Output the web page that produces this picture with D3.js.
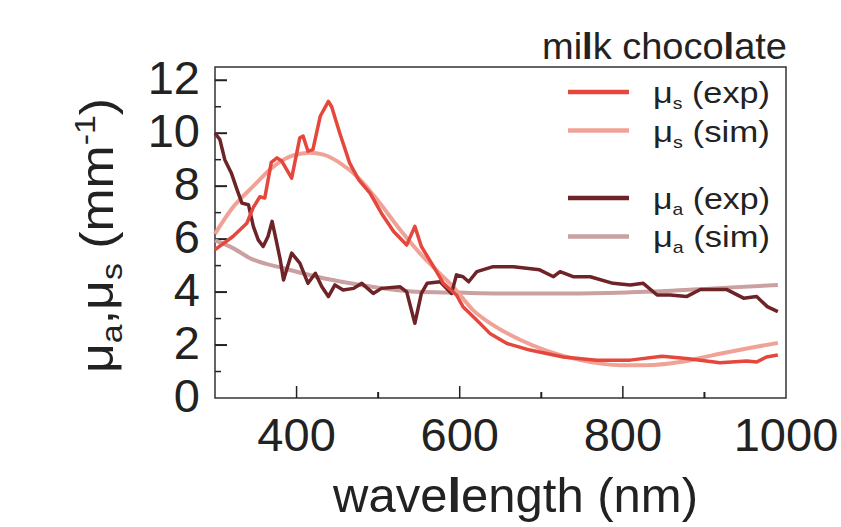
<!DOCTYPE html>
<html>
<head>
<meta charset="utf-8">
<script src="https://cdn.jsdelivr.net/npm/d3@7"></script>
<style>
  body { margin: 0; background: #fff; }
  text { font-family: "Liberation Sans", Arial, sans-serif; fill: #222; }
</style>
</head>
<body>
<div id="chart"></div>
<script>
// values (wavelength in nm, coefficients in 1/mm)
const musExpWl  = [300, 322, 339, 347, 355, 361, 369, 376, 382, 394, 404, 408, 414, 420, 429, 439, 443, 453, 465, 476, 490, 504, 519, 535, 545, 553, 568, 580, 596, 604, 621, 637, 658, 686, 727, 768, 809, 848, 878, 919, 952, 964, 976, 990];
const musExpVal = [5.6, 6.1, 6.6, 7.2, 7.6, 7.55, 8.9, 9.07, 8.94, 8.3, 9.83, 9.89, 9.32, 9.38, 10.64, 11.2, 11.0, 10.0, 8.88, 8.25, 7.74, 6.98, 6.29, 5.78, 6.48, 5.72, 4.96, 4.33, 3.89, 3.45, 2.94, 2.44, 2.06, 1.81, 1.55, 1.43, 1.43, 1.58, 1.49, 1.33, 1.40, 1.36, 1.55, 1.62];

const musSimWl  = [300, 322, 347, 372, 396, 416, 433, 453, 478, 502, 527, 551, 567, 592, 617, 641, 674, 707, 748, 797, 829, 870, 911, 952, 990];
const musSimVal = [6.2, 7.2, 8.0, 8.75, 9.16, 9.26, 9.19, 8.88, 8.25, 7.36, 6.35, 5.47, 4.96, 4.2, 3.3, 2.75, 2.2, 1.78, 1.43, 1.24, 1.24, 1.36, 1.62, 1.87, 2.08];

const muaExpWl  = [300, 306, 312, 320, 327, 333, 341, 347, 353, 359, 365, 370, 374, 380, 384, 394, 404, 414, 423, 431, 439, 447, 457, 470, 480, 494, 504, 527, 535, 545, 553, 560, 576, 590, 596, 604, 611, 621, 641, 666, 698, 715, 723, 739, 760, 788, 809, 825, 842, 858, 878, 895, 927, 948, 964, 977, 990];
const muaExpVal = [10.0, 9.76, 9.0, 8.5, 7.87, 7.36, 7.3, 6.48, 5.97, 5.72, 6.1, 6.67, 6.1, 5.22, 4.46, 5.47, 5.09, 4.33, 4.71, 4.2, 3.83, 4.27, 4.08, 4.14, 4.33, 3.95, 4.14, 4.2, 4.01, 2.82, 3.95, 4.33, 4.39, 3.95, 4.65, 4.58, 4.39, 4.77, 4.96, 4.96, 4.84, 4.58, 4.77, 4.58, 4.58, 4.33, 4.27, 4.33, 3.89, 3.89, 3.83, 4.1, 4.1, 3.77, 3.83, 3.45, 3.26];

const muaSimWl  = [300, 322, 343, 384, 425, 466, 506, 547, 596, 649, 747, 829, 911, 990];
const muaSimVal = [5.95, 5.66, 5.28, 4.9, 4.58, 4.33, 4.14, 4.01, 3.98, 3.95, 3.95, 4.01, 4.14, 4.27];

const xTicks = [300, 400, 500, 600, 700, 800, 900, 1000];
const xLabels = [400, 600, 800, 1000];
const yTicks = [0, 1, 2, 3, 4, 5, 6, 7, 8, 9, 10, 11, 12];
const yLabels = [0, 2, 4, 6, 8, 10, 12];

const legendSub = ["s", "s", "a", "a"];
const legendKind = ["(exp)", "(sim)", "(exp)", "(sim)"];
const legendRow = [0, 1, 2.75, 3.75];

const colors = ["#e5473d", "#f0a296", "#6e2427", "#caa0a0"];
const widths = [3.5, 4, 3.5, 4];

const margin = { top: 67, right: 55, bottom: 129, left: 215 },
  width = 841 - margin.left - margin.right,
  height = 527 - margin.top - margin.bottom;

const svg = d3.select("#chart").append("svg")
  .attr("width", width + margin.left + margin.right)
  .attr("height", height + margin.top + margin.bottom)
  .append("g")
  .attr("transform", "translate(" + margin.left + "," + margin.top + ")");

const x = d3.scaleLinear().domain([300, 1000]).range([0, width]);
const y = d3.scaleLinear().domain([0, 12.5]).range([height, 0]);

// frame
svg.append("rect")
  .attr("width", width).attr("height", height)
  .attr("fill", "none").attr("stroke", "#333").attr("stroke-width", 1.5);

// inward ticks
svg.selectAll(".xtick").data(xTicks.slice(1, -1)).enter().append("line")
  .attr("x1", d => x(d)).attr("x2", d => x(d))
  .attr("y1", height).attr("y2", d => height - (xLabels.includes(d) ? 12 : 6))
  .attr("stroke", "#222").attr("stroke-width", d => xLabels.includes(d) ? 1.5 : 2);

svg.selectAll(".ytick").data(yTicks.slice(1)).enter().append("line")
  .attr("x1", 0).attr("x2", d => yLabels.includes(d) ? 12 : 6)
  .attr("y1", d => y(d)).attr("y2", d => y(d))
  .attr("stroke", "#222").attr("stroke-width", d => yLabels.includes(d) ? 2 : 1.5);

svg.selectAll(".xlab").data(xLabels).enter().append("text")
  .attr("x", d => x(d)).attr("y", height + 53)
  .attr("text-anchor", "middle").style("font-size", "47px")
  .text(d => d);

svg.selectAll(".ylab").data(yLabels).enter().append("text")
  .attr("x", -15).attr("y", d => y(d) + 14)
  .attr("text-anchor", "end").style("font-size", "47px")
  .text(d => d);

// axis titles
const xt = svg.append("text")
  .attr("x", width / 2 + 15).attr("y", height + 114)
  .attr("text-anchor", "middle").style("font-size", "48px")
  .attr("textLength", 365).attr("lengthAdjust", "spacingAndGlyphs");
xt.append("tspan").text("wave");
xt.append("tspan").style("font-weight", "bold").text("l");
xt.append("tspan").text("ength (nm)");

const yt = svg.append("text")
  .attr("transform", "translate(-102," + (height / 2 + 3) + ") rotate(-90)")
  .attr("text-anchor", "middle").style("font-size", "46px")
  .attr("textLength", 275).attr("lengthAdjust", "spacingAndGlyphs");
yt.append("tspan").text("μ");
yt.append("tspan").attr("dy", 9).style("font-size", "30px").text("a");
yt.append("tspan").attr("dy", -9).text(",μ");
yt.append("tspan").attr("dy", 9).style("font-size", "30px").text("s");
yt.append("tspan").attr("dy", -9).text(" (mm");
yt.append("tspan").attr("dy", -18).style("font-size", "30px").text("-1");
yt.append("tspan").attr("dy", 18).text(")");

// title
const tt = svg.append("text")
  .attr("x", width + 1).attr("y", -8)
  .attr("text-anchor", "end").style("font-size", "36px")
  .attr("textLength", 245).attr("lengthAdjust", "spacingAndGlyphs");
tt.append("tspan").text("mi");
tt.append("tspan").style("font-weight", "bold").text("l");
tt.append("tspan").text("k choco");
tt.append("tspan").style("font-weight", "bold").text("l");
tt.append("tspan").text("ate");

// curves
const series = [
  [musExpWl, musExpVal, d3.curveLinear],
  [musSimWl, musSimVal, d3.curveMonotoneX],
  [muaExpWl, muaExpVal, d3.curveLinear],
  [muaSimWl, muaSimVal, d3.curveMonotoneX]
];
const drawOrder = [3, 1, 2, 0];
drawOrder.forEach(i => {
  const [wl, val, curve] = series[i];
  const line = d3.line().x(d => x(d[0])).y(d => y(d[1])).curve(curve);
  svg.append("path")
    .datum(wl.map((w, j) => [w, val[j]]))
    .attr("d", line)
    .attr("fill", "none")
    .attr("stroke", colors[i])
    .attr("stroke-width", widths[i])
    .attr("stroke-linejoin", "round");
});

// legend
const legend = svg.selectAll(".legend").data(legendSub).enter().append("g")
  .attr("class", "legend")
  .attr("transform", (d, i) => "translate(353," + (25 + legendRow[i] * 38.5) + ")");
legend.append("line")
  .attr("x1", 0).attr("x2", 61)
  .attr("stroke", (d, i) => colors[i]).attr("stroke-width", 4.5);
const lt = legend.append("text")
  .attr("x", 85).attr("y", 11).style("font-size", "30px")
  .attr("textLength", 117).attr("lengthAdjust", "spacingAndGlyphs");
lt.append("tspan").text("μ");
lt.append("tspan").attr("dy", 6).style("font-size", "17px").text(d => d);
lt.append("tspan").attr("dy", -6).text((d, i) => " " + legendKind[i]);
</script>
</body>
</html>
